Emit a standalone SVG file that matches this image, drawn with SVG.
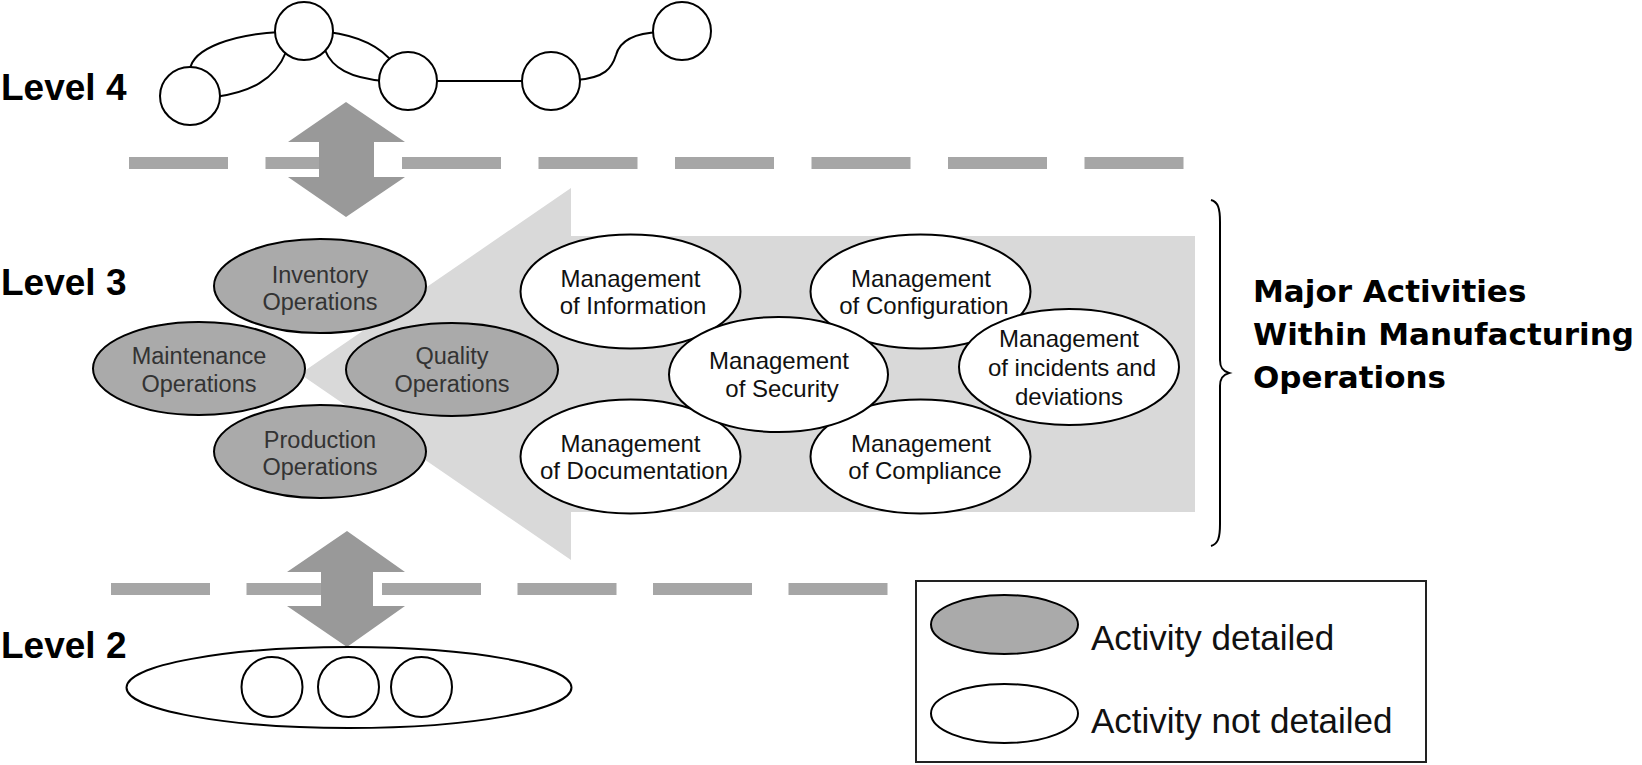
<svg xmlns="http://www.w3.org/2000/svg" width="1642" height="765" viewBox="0 0 1642 765">
<style>
.lvl{font-family:"Liberation Sans",Arial,sans-serif;font-weight:bold;font-size:37px;fill:#000}
.node{stroke:#000;stroke-width:2}
.det{fill:#aaaaaa}
.nd{fill:#fff}
.t{font-family:"Liberation Sans",Arial,sans-serif;font-size:24px;text-anchor:middle}
.op{font-size:23.5px;fill:#333}
.tn{fill:#111}
.dash{fill:#a6a6a6}
.dbl{fill:#999}
.net{fill:none;stroke:#000;stroke-width:2}
.big{font-family:"DejaVu Sans",Verdana,sans-serif;font-weight:bold;font-size:31px;fill:#000}
.leg{font-family:"Liberation Sans",Arial,sans-serif;font-size:35px;fill:#111}
</style>
<rect width="1642" height="765" fill="#fff"/>
<g id="level-labels">
<text class="lvl" x="1" y="100">Level 4</text>
<text class="lvl" x="1" y="295">Level 3</text>
<text class="lvl" x="1" y="658">Level 2</text>
</g>
<g id="dashes-top">
<rect class="dash" x="129" y="157" width="99" height="12"/>
<rect class="dash" x="265.5" y="157" width="99" height="12"/>
<rect class="dash" x="402" y="157" width="99" height="12"/>
<rect class="dash" x="538.5" y="157" width="99" height="12"/>
<rect class="dash" x="675" y="157" width="99" height="12"/>
<rect class="dash" x="811.5" y="157" width="99" height="12"/>
<rect class="dash" x="948" y="157" width="99" height="12"/>
<rect class="dash" x="1084.5" y="157" width="99" height="12"/>
</g>
<g id="dashes-bottom">
<rect class="dash" x="111" y="583" width="99" height="12"/>
<rect class="dash" x="246.5" y="583" width="99" height="12"/>
<rect class="dash" x="382" y="583" width="99" height="12"/>
<rect class="dash" x="517.5" y="583" width="99" height="12"/>
<rect class="dash" x="653" y="583" width="99" height="12"/>
<rect class="dash" x="788.5" y="583" width="99" height="12"/>
</g>
<g id="connectors">
<path class="net" d="M190 70 C192 48 235 34 280 32"/>
<path class="net" d="M215 97 C250 92 275 80 286 52"/>
<path class="net" d="M328 32 C360 36 382 48 394 64"/>
<path class="net" d="M325 50 C332 68 350 78 384 81"/>
<path class="net" d="M432 81 L526 81"/>
<path class="net" d="M576 80 C605 78 612 68 616 55 C620 40 635 33 660 32"/>
<polygon id="arrow-4-3" class="dbl" points="346,102 405,142 374,142 374,177 405,177 346,217 288,177 319,177 319,142 288,142"/>
<polygon id="arrow-3-2" class="dbl" points="347,531 405,572 373,572 373,606 405,606 347,647 287,606 321,606 321,572 287,572"/>
<polygon id="flow-arrow" fill="#d9d9d9" points="300,374 571,188 571,236 1195,236 1195,512 571,512 571,560"/>
<path id="brace" fill="none" stroke="#000" stroke-width="2" d="M1211 200 C1218 202 1220 208 1220 222 L1220 360 C1220 367 1222 371 1229 373 C1222 375 1220 379 1220 386 L1220 524 C1220 538 1218 544 1211 546"/>
</g>
<g id="level4-nodes">
<ellipse class="node nd" cx="190" cy="96" rx="30" ry="29"/>
<ellipse class="node nd" cx="304" cy="31" rx="29" ry="29"/>
<ellipse class="node nd" cx="408" cy="81" rx="29" ry="29"/>
<ellipse class="node nd" cx="551" cy="81" rx="29" ry="29"/>
<ellipse class="node nd" cx="682" cy="31" rx="29" ry="29"/>
</g>
<g id="inventory">
<ellipse class="node det" cx="320" cy="286" rx="106" ry="47"/>
<text class="t op" x="320" y="283">Inventory</text>
<text class="t op" x="320" y="310">Operations</text>
</g>
<g id="maintenance">
<ellipse class="node det" cx="199" cy="368.5" rx="106" ry="46.5"/>
<text class="t op" x="199" y="364">Maintenance</text>
<text class="t op" x="199" y="392">Operations</text>
</g>
<g id="quality">
<ellipse class="node det" cx="452" cy="369.5" rx="106" ry="46.5"/>
<text class="t op" x="452" y="364">Quality</text>
<text class="t op" x="452" y="392">Operations</text>
</g>
<g id="production">
<ellipse class="node det" cx="320" cy="451.5" rx="106" ry="46.5"/>
<text class="t op" x="320" y="448">Production</text>
<text class="t op" x="320" y="475">Operations</text>
</g>
<g id="mgmt-information">
<ellipse class="node nd" cx="630.5" cy="291.5" rx="110" ry="57"/>
<text class="t tn" x="630.5" y="287">Management</text>
<text class="t tn" x="633" y="314">of Information</text>
</g>
<g id="mgmt-configuration">
<ellipse class="node nd" cx="920.5" cy="291.5" rx="110" ry="57"/>
<text class="t tn" x="921" y="287">Management</text>
<text class="t tn" x="924" y="314">of Configuration</text>
</g>
<g id="mgmt-documentation">
<ellipse class="node nd" cx="630.5" cy="456.5" rx="110" ry="57"/>
<text class="t tn" x="630.5" y="452">Management</text>
<text class="t tn" x="634" y="479">of Documentation</text>
</g>
<g id="mgmt-compliance">
<ellipse class="node nd" cx="920.5" cy="456.5" rx="110" ry="57"/>
<text class="t tn" x="921" y="452">Management</text>
<text class="t tn" x="925" y="479">of Compliance</text>
</g>
<g id="mgmt-security">
<ellipse class="node nd" cx="778.5" cy="374.5" rx="109.5" ry="57.5"/>
<text class="t tn" x="779" y="369">Management</text>
<text class="t tn" x="782" y="397">of Security</text>
</g>
<g id="mgmt-incidents">
<ellipse class="node nd" cx="1069" cy="367" rx="110" ry="58"/>
<text class="t tn" x="1069" y="347">Management</text>
<text class="t tn" x="1072" y="376">of incidents and</text>
<text class="t tn" x="1069" y="405">deviations</text>
</g>
<g id="major-activities">
<text class="big" x="1253" y="302">Major Activities</text>
<text class="big" x="1253" y="345">Within Manufacturing</text>
<text class="big" x="1253" y="388">Operations</text>
</g>
<g id="level2">
<ellipse class="node nd" cx="349" cy="687.5" rx="222.5" ry="40.5"/>
<ellipse class="node nd" cx="272" cy="687" rx="30.5" ry="30"/>
<ellipse class="node nd" cx="348.5" cy="687" rx="30.5" ry="30"/>
<ellipse class="node nd" cx="421.5" cy="687" rx="30.5" ry="30"/>
</g>
<g id="legend">
<rect x="916" y="581" width="510" height="181" fill="#fff" stroke="#222" stroke-width="2"/>
<ellipse class="node det" cx="1004.5" cy="624.5" rx="73.5" ry="29.5"/>
<text class="leg" x="1091" y="650">Activity detailed</text>
<ellipse class="node nd" cx="1004.5" cy="713.5" rx="73.5" ry="29.5"/>
<text class="leg" x="1091" y="733">Activity not detailed</text>
</g>
</svg>
